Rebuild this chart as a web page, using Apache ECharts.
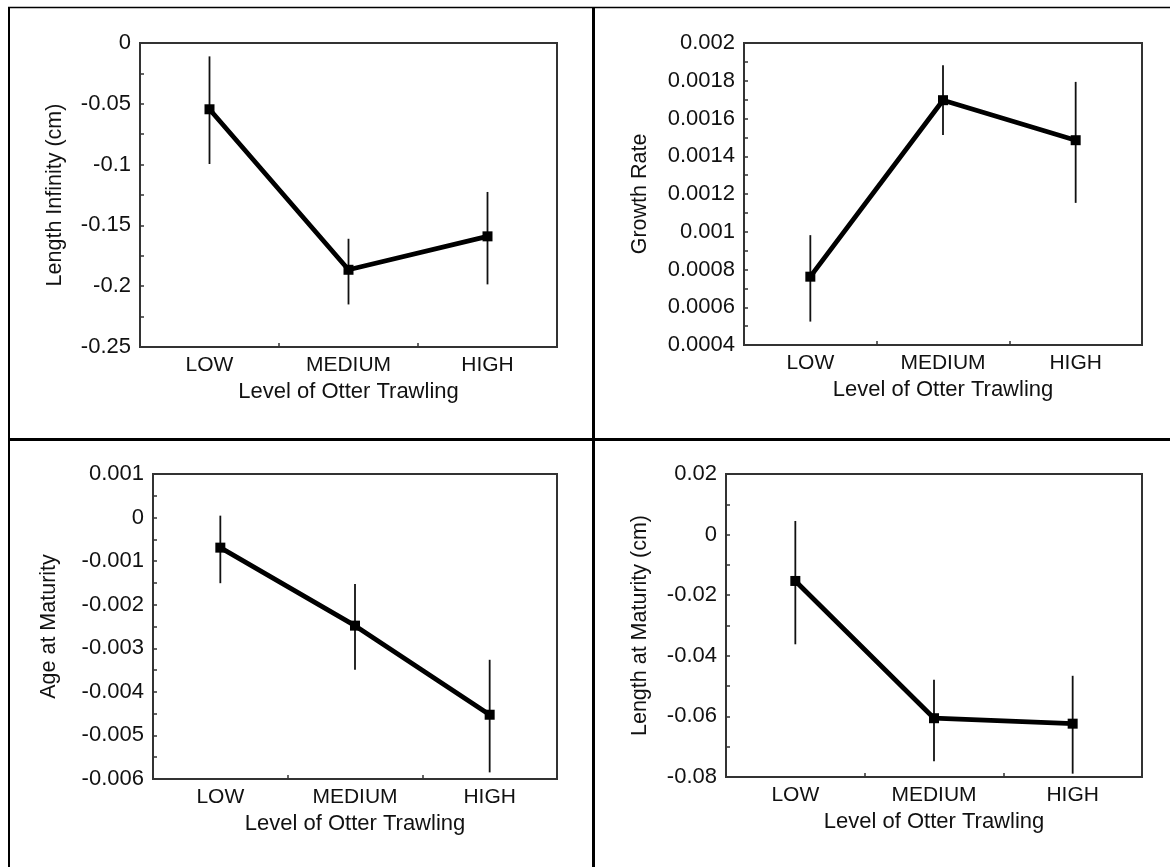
<!DOCTYPE html>
<html>
<head>
<meta charset="utf-8">
<script src="https://cdn.jsdelivr.net/npm/echarts@6/dist/echarts.min.js"></script>
<style>
html,body{margin:0;padding:0;background:#fff}
#chart{width:1170px;height:867px}
</style>
</head>
<body>
<div id="chart"></div>
<script>
// ---- data ----
const categories = ['LOW', 'MEDIUM', 'HIGH'];
const xTitle = 'Level of Otter Trawling';
const yTitles = ['Length Infinity (cm)', 'Growth Rate', 'Age at Maturity', 'Length at Maturity (cm)'];

const lengthInfinity   = [-0.0545, -0.1865, -0.159];
const lengthInfinityLo = [-0.0995, -0.215, -0.1985];
const lengthInfinityHi = [-0.011, -0.161, -0.1225];

const growthRate   = [0.000762, 0.001697, 0.001485];
const growthRateLo = [0.000524, 0.001512, 0.001153];
const growthRateHi = [0.000982, 0.001882, 0.001794];

const ageMaturity   = [-0.00069, -0.00248, -0.004525];
const ageMaturityLo = [-0.001506, -0.003493, -0.005848];
const ageMaturityHi = [0.000044, -0.001522, -0.003264];

const lengthMaturity   = [-0.0153, -0.0606, -0.0624];
const lengthMaturityLo = [-0.0362, -0.0748, -0.0789];
const lengthMaturityHi = [0.0045, -0.0479, -0.0466];

// y axis tick ranges
const yMin  = [-0.25, 0.0004, -0.006, -0.08];
const yMax  = [0, 0.002, 0.001, 0.02];
const yStep = [0.05, 0.0002, 0.001, 0.02];

// ---- layout / style ----
const FONT = '"Liberation Sans", Arial, sans-serif';
const TXT = '#111';
const grids = [
  {left: 140, top: 43, width: 417, height: 304},
  {left: 744, top: 43, width: 398, height: 302},
  {left: 153, top: 474, width: 404, height: 305},
  {left: 726, top: 474, width: 416, height: 303}
];
const yNameGaps = [74, 93, 93, 75];
const means = [lengthInfinity, growthRate, ageMaturity, lengthMaturity];
const los = [lengthInfinityLo, growthRateLo, ageMaturityLo, lengthMaturityLo];
const his = [lengthInfinityHi, growthRateHi, ageMaturityHi, lengthMaturityHi];

const chart = echarts.init(document.getElementById('chart'), null, {renderer: 'canvas'});

const option = {
  animation: false,
  backgroundColor: '#fff',
  grid: grids.map(g => Object.assign({show: true, borderColor: '#333', borderWidth: 2, backgroundColor: 'transparent'}, g)),
  xAxis: grids.map((g, i) => ({
    gridIndex: i,
    type: 'category',
    position: 'bottom',
    data: categories,
    boundaryGap: true,
    axisLine: {show: false, onZero: false},
    axisTick: {show: true, inside: true, length: 4, interval: 0, lineStyle: {color: '#333', width: 1.5}},
    axisLabel: {margin: 8, fontSize: 21, color: TXT, fontFamily: FONT, interval: 0},
    splitLine: {show: false},
    name: xTitle,
    nameLocation: 'middle',
    nameGap: 34,
    nameTextStyle: {fontSize: 22, color: TXT, fontFamily: FONT}
  })),
  yAxis: grids.map((g, i) => ({
    gridIndex: i,
    type: 'value',
    position: 'left',
    min: yMin[i],
    max: yMax[i],
    interval: yStep[i],
    axisLine: {show: false, onZero: false},
    axisTick: {show: true, inside: true, length: 4, lineStyle: {color: '#333', width: 1.5}},
    minorTick: {show: true, splitNumber: 2, length: 4, lineStyle: {color: '#333', width: 1.5}},
    axisLabel: {margin: 9, fontSize: 22, color: TXT, fontFamily: FONT},
    splitLine: {show: false},
    name: yTitles[i],
    nameLocation: 'middle',
    nameGap: yNameGaps[i],
    nameTextStyle: {fontSize: 21.5, color: TXT, fontFamily: FONT}
  })),
  series: [].concat(
    grids.map((g, i) => ({
      type: 'custom',
      xAxisIndex: i,
      yAxisIndex: i,
      z: 1,
      encode: {x: 0, y: [1, 2]},
      data: categories.map((c, j) => [j, los[i][j], his[i][j]]),
      renderItem: function (params, api) {
        const x = api.value(0);
        const a = api.coord([x, api.value(2)]);
        const b = api.coord([x, api.value(1)]);
        return {
          type: 'line',
          shape: {x1: a[0], y1: a[1], x2: b[0], y2: b[1]},
          style: {stroke: '#111', lineWidth: 1.8}
        };
      }
    })),
    grids.map((g, i) => ({
      type: 'line',
      xAxisIndex: i,
      yAxisIndex: i,
      z: 3,
      data: means[i],
      symbol: 'rect',
      symbolSize: 10,
      itemStyle: {color: '#000'},
      lineStyle: {color: '#000', width: 4.8},
      emphasis: {disabled: true}
    }))
  ),
  graphic: [
    {type: 'line', silent: true, shape: {x1: 8, y1: 7.5, x2: 1170, y2: 7.5}, style: {stroke: '#000', lineWidth: 1.5}},
    {type: 'line', silent: true, shape: {x1: 9, y1: 7, x2: 9, y2: 867}, style: {stroke: '#000', lineWidth: 2}},
    {type: 'line', silent: true, shape: {x1: 8, y1: 439.5, x2: 1170, y2: 439.5}, style: {stroke: '#000', lineWidth: 3}},
    {type: 'line', silent: true, shape: {x1: 593.5, y1: 7, x2: 593.5, y2: 867}, style: {stroke: '#000', lineWidth: 3}}
  ]
};
chart.setOption(option);
</script>
</body>
</html>
